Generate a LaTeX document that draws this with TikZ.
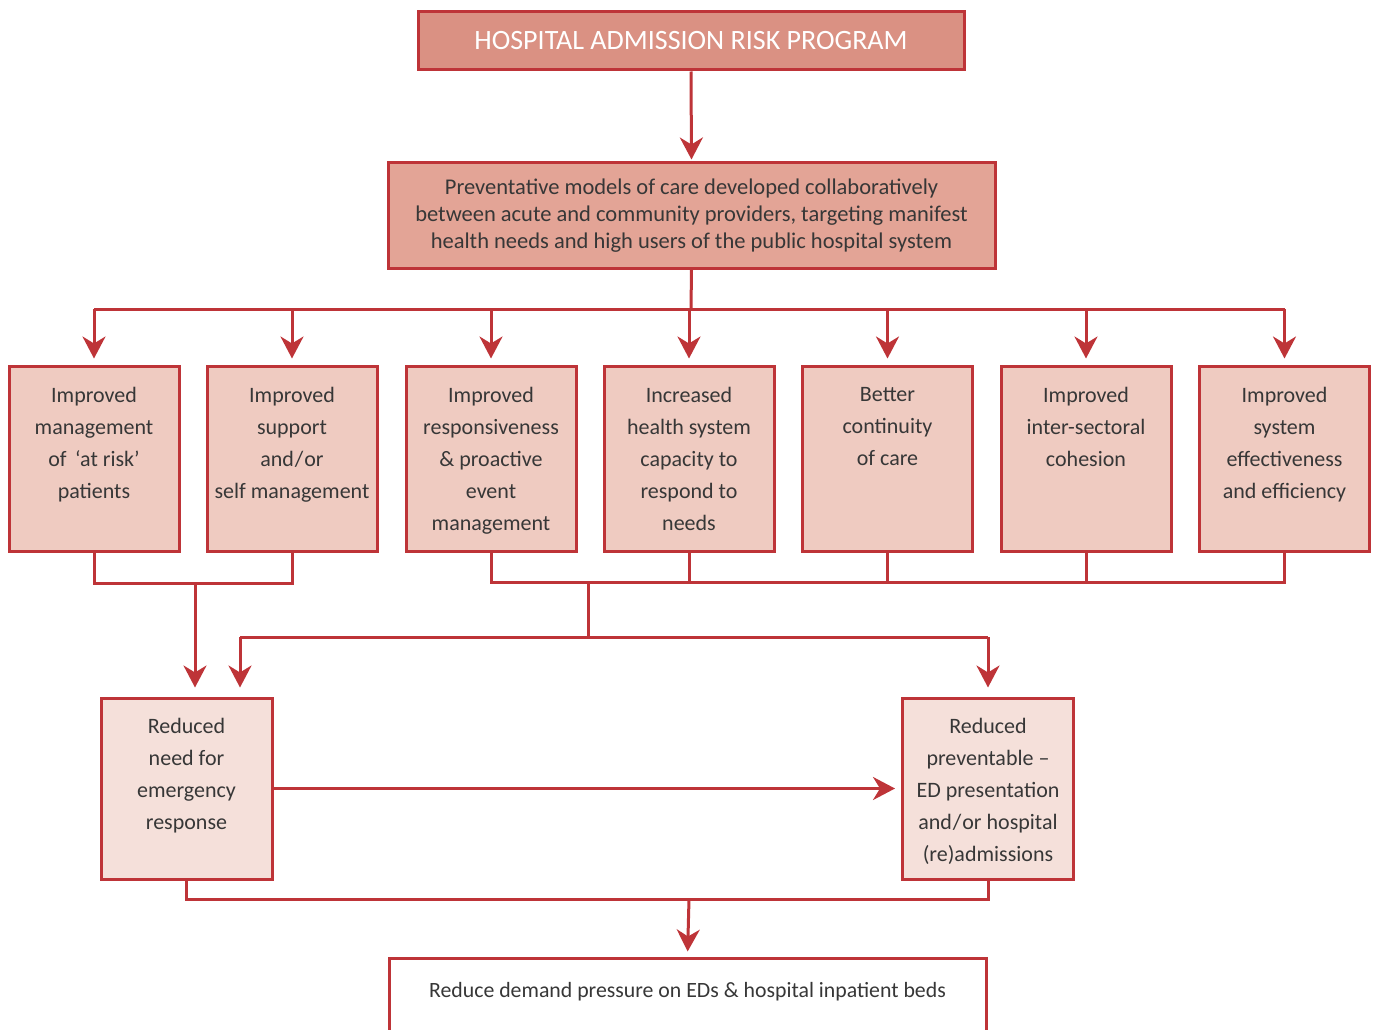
\documentclass[tikz,border=0pt]{standalone}
\usepackage{fontspec}
\setmainfont{Carlito}
\usetikzlibrary{arrows.meta}
\definecolor{bord}{RGB}{190,52,56}
\definecolor{fillA}{RGB}{218,145,131}
\definecolor{fillB}{RGB}{227,164,150}
\definecolor{fillC}{RGB}{239,203,193}
\definecolor{fillD}{RGB}{245,224,218}
\definecolor{txt}{RGB}{55,55,55}
\newcommand{\slsh}{\kern1pt/\kern1pt}
\begin{document}
\begin{tikzpicture}[x=1pt,y=-1pt,
  box/.style={draw=bord, line width=3pt, inner sep=0pt, minimum width=#1},
  midbox/.style={box=170pt, fill=fillC, minimum height=185pt},
  lowbox/.style={box=171pt, fill=fillD, minimum height=181pt},
  btxt/.style={anchor=north, inner sep=0pt, align=center, text=txt,
    font=\fontsize{22}{32}\selectfont},
  conn/.style={draw=bord, line width=3pt},
  arr/.style={conn, -{Stealth[length=22pt,width=23pt,inset=7pt]}}
]
\clip (0,0) rectangle (1379,1030);
\fill[white] (0,0) rectangle (1379,1030);

% top boxes
\node[box=546pt, fill=fillA, minimum height=58pt, text=white,
  font=\fontsize{28}{32}\selectfont] (top) at (691,41) {HOSPITAL ADMISSION RISK PROGRAM};
\node[box=607pt, fill=fillB, minimum height=105pt, text=txt, align=center,
  font=\fontsize{22.5}{27}\selectfont] (prev) at (691.5,215.5)
  {Preventative models of care developed collaboratively\\
   between acute and community providers, targeting manifest\\
   health needs and high users of the public hospital system};

% seven outcome boxes
\node[midbox] (b1) at (94,458.5) {};
\node[midbox] (b2) at (292,458.5) {};
\node[midbox] (b3) at (491,458.5) {};
\node[midbox] (b4) at (689,458.5) {};
\node[midbox] (b5) at (887.5,458.5) {};
\node[midbox] (b6) at (1086,458.5) {};
\node[midbox] (b7) at (1284.5,458.5) {};
\node[btxt, yshift=-23pt] (t1) at (b1.north) {Improved\\management\\of \,‘at risk’\\patients};
\node[btxt, yshift=-23pt] (t2) at (b2.north) {Improved\\support\\and\slsh or\\self management};
\node[btxt, yshift=-23pt] (t3) at (b3.north) {Improved\\responsiveness\\\& proactive\\event\\management};
\node[btxt, yshift=-23pt] (t4) at (b4.north) {Increased\\health system\\capacity to\\respond to\\needs};
\node[btxt, yshift=-23pt] (t5) at (b5.north) {Better\\continuity\\of care};
\node[btxt, yshift=-23pt] (t6) at (b6.north) {Improved\\inter-sectoral\\cohesion};
\node[btxt, yshift=-23pt] (t7) at (b7.north) {Improved\\system\\effectiveness\\and efficiency};

% lower boxes
\node[lowbox] (r1) at (186.5,788.5) {};
\node[lowbox] (r2) at (988,788.5) {};
\node[btxt, yshift=-22pt] (rt1) at (r1.north) {Reduced\\need for\\emergency\\response};
\node[btxt, yshift=-22pt] (rt2) at (r2.north) {Reduced\\preventable –\\ED presentation\\and\slsh or hospital\\(re)admissions};

% final box
\node[box=597pt, fill=white, minimum height=100pt] (fin) at (687.5,1008) {};
\node[anchor=north, inner sep=0pt, text=txt, font=\fontsize{21.8}{28}\selectfont, yshift=-26pt]
  (fint) at (fin.north) {Reduce demand pressure on EDs \& hospital inpatient beds};

% coordinates
\coordinate (hub) at (691,309);
\coordinate (ja) at (195,583);
\coordinate (jb) at (588,582);
\coordinate (jc) at (588,637);
\coordinate (jl) at (240,637);
\coordinate (jd) at (689,899);

% connectors
\draw[arr, shorten >=2pt] (top.south) -- (prev.north);
\draw[conn] (prev.south) -- (hub);
\draw[conn] (b1.north |- hub) -- (b7.north |- hub);
\foreach \b in {b1,b2,b3,b4,b5,b6,b7}
  \draw[arr, shorten >=6pt] (\b.north |- hub) -- (\b.north);

\draw[conn] (b1.south) -- (b1.south |- ja) -- (b2.south |- ja) -- (b2.south);
\draw[arr, shorten >=9pt] (ja) -- (ja |- r1.north);
\draw[conn] (b3.south) -- (b3.south |- jb) -- (b7.south |- jb) -- (b7.south);
\foreach \b in {b4,b5,b6}
  \draw[conn] (\b.south) -- (\b.south |- jb);
\draw[conn] (jb) -- (jc);
\draw[conn] (jl) -- (r2.north |- jc);
\draw[arr, shorten >=9pt] (jl) -- (jl |- r1.north);
\draw[arr, shorten >=9pt] (r2.north |- jc) -- (r2.north);

\draw[arr, shorten >=6pt] (r1.east) -- (r2.west);
\draw[conn] (r1.south) -- (r1.south |- jd) -- (r2.south |- jd) -- (r2.south);
\draw[arr, shorten >=5pt] (jd) -- (fin.north);
\end{tikzpicture}
\end{document}
